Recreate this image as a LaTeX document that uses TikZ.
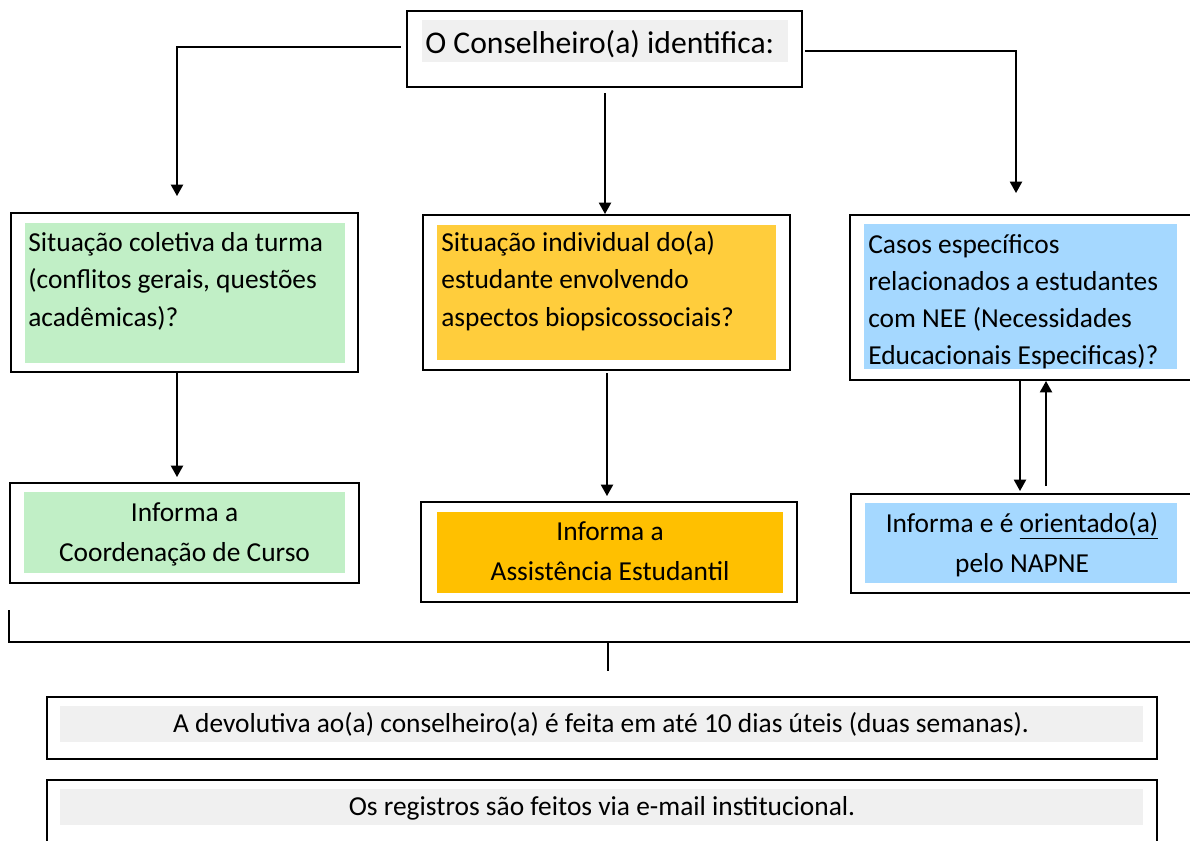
\documentclass[tikz,border=0pt]{standalone}
\usepackage{fontspec}
\setmainfont{Carlito}
\usetikzlibrary{fit,arrows.meta}
\definecolor{cgreen}{RGB}{193,239,198}
\definecolor{cgold}{RGB}{255,205,60}
\definecolor{corange}{RGB}{255,192,0}
\definecolor{cblue}{RGB}{165,216,255}
\definecolor{cgray}{RGB}{240,240,240}
\tikzset{
  frame/.style={draw=black, line width=1.15pt, inner sep=0pt},
  bg/.style={inner sep=0pt, draw=none},
  body/.style={inner sep=0pt, font=\fontsize{15.6pt}{21.3pt}\selectfont},
  bodyc/.style={inner sep=0pt, align=center, font=\fontsize{15.6pt}{22.7pt}\selectfont},
  conn/.style={draw=black, line width=0.85pt},
  arr/.style={conn, -{Triangle[width=7pt,length=6.5pt]}},
}
\begin{document}
\begin{tikzpicture}[x=0.02cm,y=-0.02cm]
\useasboundingbox (0,0) rectangle (1190,840);
\clip (0,0) rectangle (1190,840);

% top box
\node[frame, fit={(407,11)(802,87)}] (top) {};
\node[bg, fill=cgray, fit={(422,20)(788,62)}] (topbg) {};
\node[inner sep=0pt, anchor=base west, font=\fontsize{18pt}{22pt}\selectfont] (toptxt) at (425,53) {O Conselheiro(a) identifica:};

% row 1
\node[frame, fit={(11,213)(358,372)}] (b1) {};
\node[bg, fill=cgreen, fit={(25,223)(345,363)}] (b1bg) {};
\node[body, anchor=base west, align=left] (b1txt) at (28,326) {Situação coletiva da turma\\(conflitos gerais, questões\\acadêmicas)?};

\node[frame, fit={(423,215)(790,370)}] (b2) {};
\node[bg, fill=cgold, fit={(437,225)(776,360)}] (b2bg) {};
\node[body, anchor=base west, align=left] (b2txt) at (441,326) {Situação individual do(a)\\estudante envolvendo\\aspectos biopsicossociais?};

\node[frame, fit={(850,215)(1210,380)}] (b3) {};
\node[bg, fill=cblue, fit={(864,224)(1177,369)}] (b3bg) {};
\node[body, anchor=base west, align=left, font=\fontsize{15.6pt}{20.9pt}\selectfont] (b3txt) at (868,364) {Casos específicos\\relacionados a estudantes\\com NEE (Necessidades\\Educacionais Especificas)?};

% row 2
\node[frame, fit={(10,483)(359,583)}] (b4) {};
\node[bg, fill=cgreen, fit={(24,492)(345,573)}] (b4bg) {};
\node[bodyc, anchor=base] (b4txt) at (184.5,561) {Informa a\\Coordenação de Curso};

\node[frame, fit={(421,502)(797,602)}] (b6) {};
\node[bg, fill=corange, fit={(437,512)(783,593)}] (b6bg) {};
\node[bodyc, anchor=base] (b6txt) at (610,580) {Informa a\\Assistência Estudantil};

\node[frame, fit={(851,494)(1210,593)}] (b7) {};
\node[bg, fill=cblue, fit={(865,503)(1177,583)}] (b7bg) {};
\node[bodyc, anchor=base] (b7txt) at (1022,572) {Informa e é \underline{orientado(a)}\\pelo NAPNE};

% bottom boxes
\node[frame, fit={(47,697)(1157,759)}] (b5) {};
\node[bg, fill=cgray, fit={(60,706)(1143,742)}] (b5bg) {};
\node[body, anchor=base] (b5txt) at (601,732) {A devolutiva ao(a) conselheiro(a) é feita em até 10 dias úteis (duas semanas).};

\node[frame, fit={(47,780)(1157,860)}] (b8) {};
\node[bg, fill=cgray, fit={(60,789)(1143,825)}] (b8bg) {};
\node[body, anchor=base] (b8txt) at (602,815) {Os registros são feitos via e-mail institucional.};

% connectors from top
\coordinate (la) at (177,196);
\coordinate (ra) at (1016,193);
\draw[arr, shorten <=5*0.02cm] (top.west |- 0,47) -| (la);
\draw[arr, shorten <=2*0.02cm] (top.east |- 0,51) -| (ra);
\draw[arr, shorten <=5*0.02cm] (top.south -| 605,0) -- (b2.north -| 605,0);

% row1 -> row2
\draw[arr, shorten >=5*0.02cm] (b1.south -| 177,0) -- (b4.north -| 177,0);
\draw[arr, shorten <=2*0.02cm, shorten >=5*0.02cm] (b2.south -| 607,0) -- (b6.north -| 607,0);
\draw[arr, shorten >=2*0.02cm] (b3.south -| 1020,0) -- (b7.north -| 1020,0);
\draw[arr, shorten <=7*0.02cm] (b7.north -| 1046,0) -- (b3.south -| 1046,0);

% bracket
\coordinate (bl) at (9,610);
\coordinate (bc) at (9,642);
\coordinate (br) at (1200,642);
\coordinate (tk) at (608,642);
\coordinate (tkb) at (608,671);
\draw[conn, line width=1pt] (bl) -- (bc) -- (br);
\draw[conn, line width=1.1pt] (tk) -- (tkb);
\end{tikzpicture}
\end{document}
